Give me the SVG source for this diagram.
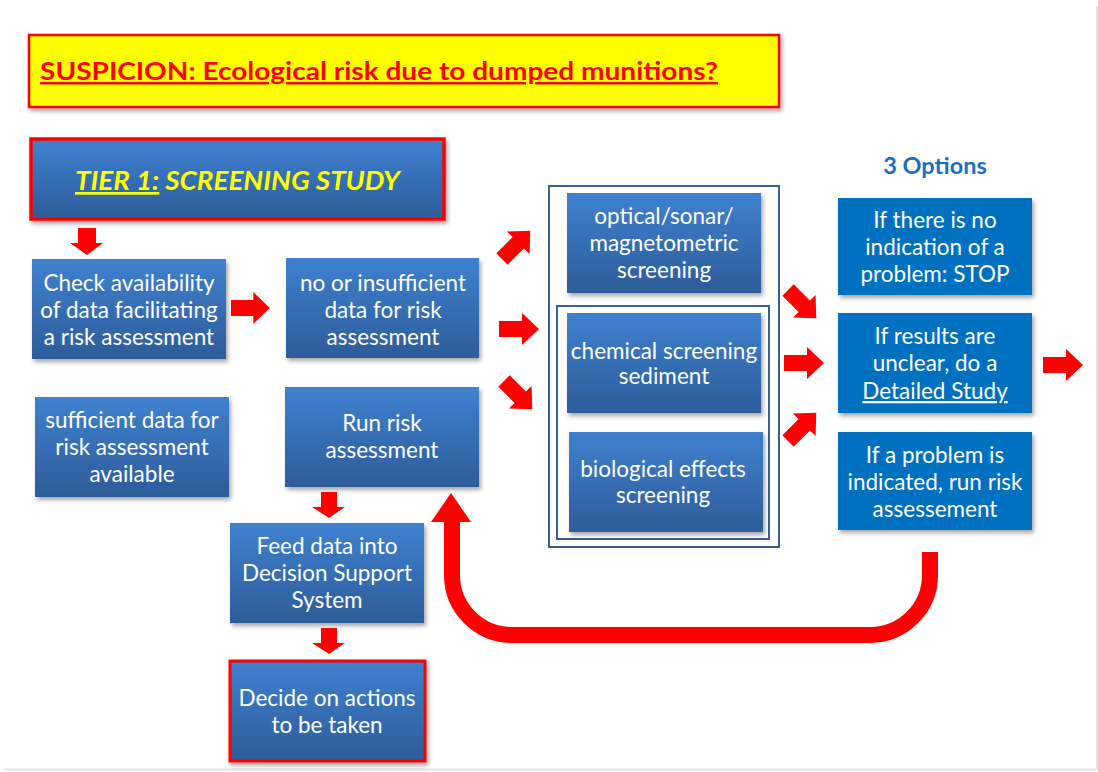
<svg xmlns="http://www.w3.org/2000/svg" width="1098" height="772" viewBox="0 0 1098 772">
<style>
.t{font-family:Lato,"Open Sans","Liberation Sans",sans-serif;font-size:22.5px;fill:#ffffff;text-anchor:middle}
.bx{fill:url(#bg);filter:url(#sh)}
.ob{fill:#0070c0;filter:url(#sh)}
.ar{fill:#ff0000}
.pn{fill:none;stroke:#3a5f8e;stroke-width:2}
</style>
<defs>
<linearGradient id="bg" x1="0" y1="0" x2="0" y2="1">
<stop offset="0" stop-color="#3f81d0"/>
<stop offset="1" stop-color="#2d5c99"/>
</linearGradient>
<filter id="sh" x="-10%" y="-10%" width="125%" height="130%">
<feDropShadow dx="2" dy="3" stdDeviation="2" flood-color="#000" flood-opacity="0.35"/>
</filter>
<path id="arw" d="M0,-8 H23 V-16 L40,0 L23,16 V8 H0 Z"/>
</defs>
<rect width="1098" height="772" fill="#ffffff"/>
<path d="M1097,6 V770 M3,769.5 H1097" stroke="#e2e2e2" stroke-width="2" fill="none"/>

<g id="suspicion">
<rect x="29" y="35" width="750" height="72" fill="#ffff00" stroke="#ff0000" stroke-width="2.5" filter="url(#sh)"/>
<text x="40" y="80" font-family="Lato,'Liberation Sans',sans-serif" font-size="24" font-weight="bold" fill="#ff0000" text-decoration="underline" textLength="678" lengthAdjust="spacingAndGlyphs">SUSPICION: Ecological risk due to dumped munitions?</text>
</g>

<g id="tier1">
<rect x="31" y="139" width="413" height="80" fill="url(#bg)" stroke="#ff0000" stroke-width="3.5" filter="url(#sh)"/>
<text x="75" y="190" font-family="Lato,'Liberation Sans',sans-serif" font-size="27" font-weight="bold" font-style="italic" fill="#ffff00" textLength="325" lengthAdjust="spacingAndGlyphs"><tspan text-decoration="underline">TIER 1:</tspan> SCREENING STUDY</text>
</g>

<g id="check">
<rect class="bx" x="32" y="259" width="194" height="100"/>
<text class="t" x="129" y="291">Check availability</text>
<text class="t" x="129" y="318">of data facilitating</text>
<text class="t" x="129" y="345">a risk assessment</text>
</g>

<g id="insufficient">
<rect class="bx" x="286" y="258" width="193" height="100"/>
<text class="t" x="383" y="291">no or insufficient</text>
<text class="t" x="383" y="318">data for risk</text>
<text class="t" x="383" y="345">assessment</text>
</g>

<g id="sufficient">
<rect class="bx" x="35" y="397" width="194" height="100"/>
<text class="t" x="132" y="428">sufficient data for</text>
<text class="t" x="132" y="455">risk assessment</text>
<text class="t" x="132" y="482">available</text>
</g>

<g id="runrisk">
<rect class="bx" x="285" y="387" width="194" height="100"/>
<text class="t" x="382" y="431">Run risk</text>
<text class="t" x="382" y="458">assessment</text>
</g>

<g id="feed">
<rect class="bx" x="230" y="523" width="194" height="100"/>
<text class="t" x="327" y="554">Feed data into</text>
<text class="t" x="327" y="581">Decision Support</text>
<text class="t" x="327" y="608">System</text>
</g>

<g id="decide">
<rect x="230" y="661" width="195" height="100" fill="url(#bg)" stroke="#ff0000" stroke-width="3" filter="url(#sh)"/>
<text class="t" x="327" y="706">Decide on actions</text>
<text class="t" x="327" y="733">to be taken</text>
</g>

<g id="panel">
<rect class="pn" x="549" y="186" width="230" height="361"/>
<rect class="pn" x="557" y="306" width="212" height="233"/>
</g>

<g id="optical">
<rect class="bx" x="567" y="193" width="194" height="100"/>
<text class="t" x="664" y="224">optical/sonar/</text>
<text class="t" x="664" y="251">magnetometric</text>
<text class="t" x="664" y="278">screening</text>
</g>

<g id="chemical">
<rect class="bx" x="567" y="313" width="194" height="100"/>
<text class="t" x="664" y="359">chemical screening</text>
<text class="t" x="664" y="384">sediment</text>
</g>

<g id="biological">
<rect class="bx" x="569" y="432" width="194" height="100"/>
<text class="t" x="663" y="477">biological effects</text>
<text class="t" x="663" y="503">screening</text>
</g>

<g id="options-title">
<text x="935" y="174" font-family="Lato,'Open Sans',sans-serif" font-size="23.5" font-weight="bold" fill="#1a6fc2" text-anchor="middle">3 Options</text>
</g>

<g id="opt-stop">
<rect class="ob" x="838" y="198" width="194" height="97"/>
<text class="t" x="935" y="228">If there is no</text>
<text class="t" x="935" y="255">indication of a</text>
<text class="t" x="935" y="282">problem: STOP</text>
</g>

<g id="opt-detailed">
<rect class="ob" x="838" y="313" width="194" height="100"/>
<text class="t" x="935" y="344">If results are</text>
<text class="t" x="935" y="371">unclear, do a</text>
<text class="t" x="935" y="399" text-decoration="underline">Detailed Study</text>
</g>

<g id="opt-run">
<rect class="ob" x="838" y="432" width="194" height="98"/>
<text class="t" x="935" y="463">If a problem is</text>
<text class="t" x="935" y="490">indicated, run risk</text>
<text class="t" x="935" y="517">assessement</text>
</g>

<g id="connectors">
<polygon class="ar" points="78,228 96,228 96,243 103,243 87,255 70,243 78,243"/>
<use href="#arw" class="ar" transform="translate(231,308) scale(0.97,1)"/>
<use href="#arw" class="ar" transform="translate(502,259) rotate(-45)"/>
<use href="#arw" class="ar" transform="translate(499,329)"/>
<use href="#arw" class="ar" transform="translate(504,381) rotate(45)"/>
<use href="#arw" class="ar" transform="translate(788,290) rotate(45)"/>
<use href="#arw" class="ar" transform="translate(784,363)"/>
<use href="#arw" class="ar" transform="translate(788,441) rotate(-45)"/>
<use href="#arw" class="ar" transform="translate(1043,365)"/>
<polygon class="ar" points="321,492 337,492 337,507 345,507 329,518 312,507 321,507"/>
<polygon class="ar" points="321,628 337,628 337,643 345,643 329,654 312,643 321,643"/>
<path d="M930,552 V575 A60,60 0 0 1 870,635 H512 A60,60 0 0 1 452,575 V520" fill="none" stroke="#ff0000" stroke-width="16"/>
<polygon class="ar" points="431,522 451,493 471,522"/>
</g>
</svg>
